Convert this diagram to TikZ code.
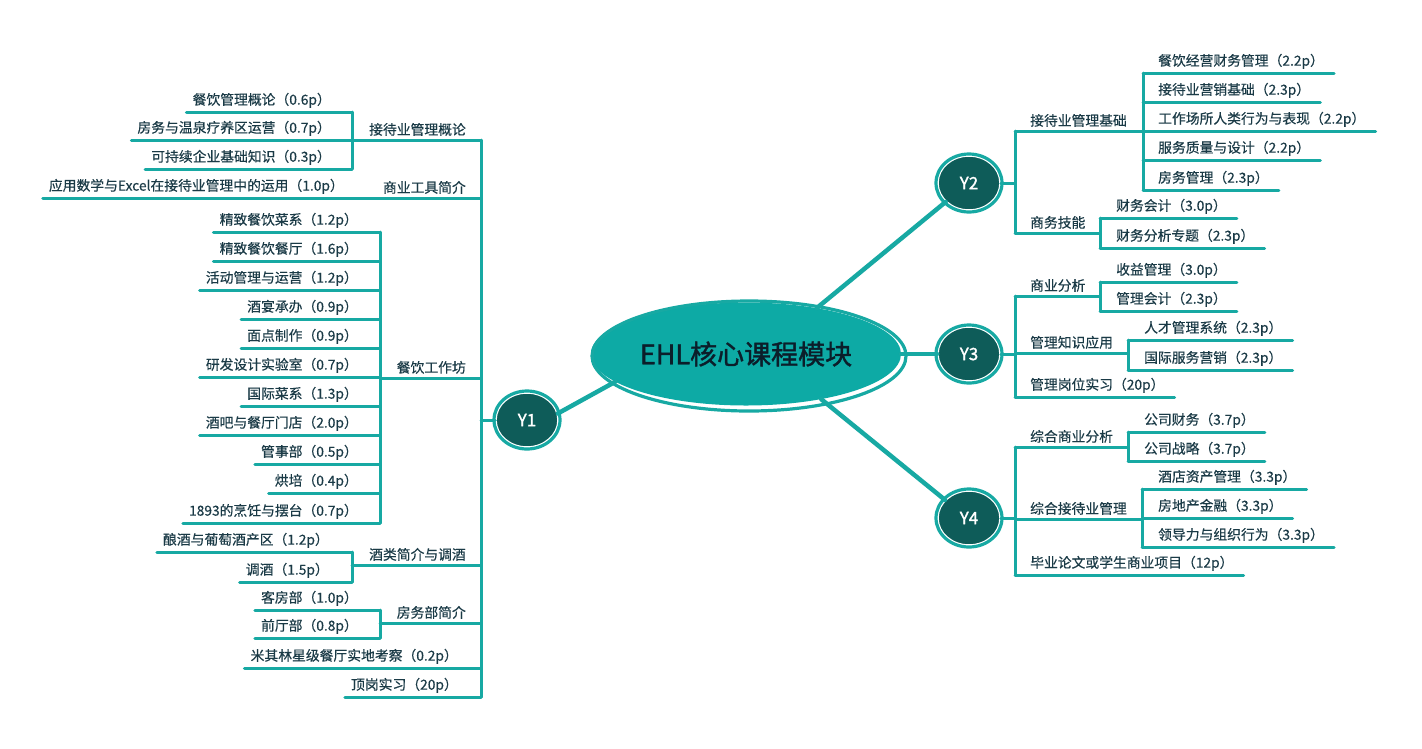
\documentclass[tikz,border=0pt]{standalone}
\usepackage{fontspec}
\newfontfamily\cjk{Noto Sans CJK SC}
\newfontfamily\cjkb[FakeBold=1.5]{Noto Sans CJK SC}
\newfontfamily\cjkm[FakeBold=0.4]{Noto Sans CJK SC}
\usetikzlibrary{shapes.geometric}
\definecolor{ln}{HTML}{17A9A3}
\definecolor{dk}{HTML}{0E5C59}
\definecolor{rootfill}{HTML}{0DAAA5}
\definecolor{txt}{HTML}{1A3A46}
\definecolor{ttl}{HTML}{0B1E2A}
\begin{document}
\begin{tikzpicture}[x=1pt,y=-1pt,
  ul/.style={draw=ln, line width=3pt, line cap=round},
  cn/.style={draw=ln, line width=4.5pt, line cap=round},
  lt/.style={font=\cjkm\fontsize{13.8}{16}\selectfont, text=txt, inner ysep=4pt, inner xsep=6pt},
  ll/.style={lt, anchor=south east},
  rl/.style={lt, anchor=south west, inner xsep=10pt},
  l1l/.style={lt, anchor=south east},
  l1r/.style={lt, anchor=south west},
  yr/.style={ellipse, fill=dk, draw=white, line width=1.5pt, minimum width=62pt, minimum height=54pt, inner sep=0pt, text=white, font=\cjkb\fontsize{17}{20}\selectfont},
  ring/.style={draw=ln, line width=3.2pt}
]
\useasboundingbox (0,0) rectangle (1422,748);

% ---------- root ----------
\node[ellipse, fill=rootfill, minimum width=310pt, minimum height=103pt, inner sep=0pt,
      text=ttl, font=\cjkb\fontsize{27}{30}\selectfont] (root) at (746,354) {EHL核心课程模块};
\draw[ring] ([xshift=3pt,yshift=-2pt]root.center) ellipse [x radius=157, y radius=55];

% ---------- year nodes ----------
\node[yr] (Y1) at (527,420) {Y1};
\node[yr] (Y2) at (969,183) {Y2};
\node[yr] (Y3) at (969,354) {Y3};
\node[yr] (Y4) at (969,518) {Y4};
\foreach \n in {Y1,Y2,Y3,Y4}{\draw[ring] (\n.center) ellipse [x radius=33, y radius=29];}

\draw[cn] (root.192) -- (Y1.12);
\draw[cn] (root.33) -- (Y2.219);
\draw[cn] (root.east) -- (Y3.west);
\draw[cn] (root.329) -- (Y4.143);

% ---------- Y1 (left) ----------
\coordinate (T1a) at (481,140);
\coordinate (T1b) at (481,697);
\draw[ul] (T1a) -- (T1b);
\draw[ul] (Y1.west) -- (Y1.west -| T1a);

% group A
\node[l1l] (A) at (472,140) {接待业管理概论};
\node[ll] (a1) at (337,112) {餐饮管理概论（0.6p）};
\node[ll] (a2) at (337,140) {房务与温泉疗养区运营（0.7p）};
\node[ll] (a3) at (337,169) {可持续企业基础知识（0.3p）};
\coordinate (bA1) at (352,112);
\coordinate (bA2) at (352,169);
\draw[ul] (bA1) -- (bA2);
\foreach \n in {a1,a2,a3}{\draw[ul] (\n.south west) -- (\n.south west -| bA1);}
\draw[ul] (bA1 |- A.south) -- (T1a |- A.south);

% group B
\node[l1l] (B) at (472,198) {商业工具简介};
\node[ll] (b1) at (350,198) {应用数学与Excel在接待业管理中的运用（1.0p）};
\draw[ul] (b1.south west) -- (T1a |- B.south);

% group C
\node[l1l] (C) at (472,378) {餐饮工作坊};
\node[ll] (c1) at (364,232) {精致餐饮菜系（1.2p）};
\node[ll] (c2) at (364,261) {精致餐饮餐厅（1.6p）};
\node[ll] (c3) at (364,290) {活动管理与运营（1.2p）};
\node[ll] (c4) at (364,319) {酒宴承办（0.9p）};
\node[ll] (c5) at (364,348) {面点制作（0.9p）};
\node[ll] (c6) at (364,377) {研发设计实验室（0.7p）};
\node[ll] (c7) at (364,406) {国际菜系（1.3p）};
\node[ll] (c8) at (364,435) {酒吧与餐厅门店（2.0p）};
\node[ll] (c9) at (364,464) {管事部（0.5p）};
\node[ll] (c10) at (364,493) {烘培（0.4p）};
\node[ll] (c11) at (364,523) {1893的烹饪与摆台（0.7p）};
\coordinate (bC1) at (380,232);
\coordinate (bC2) at (380,523);
\draw[ul] (bC1) -- (bC2);
\foreach \n in {c1,c2,c3,c4,c5,c6,c7,c8,c9,c10,c11}{\draw[ul] (\n.south west) -- (\n.south west -| bC1);}
\draw[ul] (bC1 |- C.south) -- (T1a |- C.south);

% group D
\node[l1l] (D) at (472,565) {酒类简介与调酒};
\node[ll] (d1) at (335,552) {酿酒与葡萄酒产区（1.2p）};
\node[ll] (d2) at (335,582) {调酒（1.5p）};
\coordinate (bD1) at (352,552);
\coordinate (bD2) at (352,582);
\draw[ul] (bD1) -- (bD2);
\foreach \n in {d1,d2}{\draw[ul] (\n.south west) -- (\n.south west -| bD1);}
\draw[ul] (bD1 |- D.south) -- (T1a |- D.south);

% group E
\node[l1l] (E) at (472,623) {房务部简介};
\node[ll] (e1) at (364,610) {客房部（1.0p）};
\node[ll] (e2) at (364,638) {前厅部（0.8p）};
\coordinate (bE1) at (380,610);
\coordinate (bE2) at (380,638);
\draw[ul] (bE1) -- (bE2);
\foreach \n in {e1,e2}{\draw[ul] (\n.south west) -- (\n.south west -| bE1);}
\draw[ul] (bE1 |- E.south) -- (T1a |- E.south);

% singles
\node[ll] (F) at (464,668) {米其林星级餐厅实地考察（0.2p）};
\node[ll] (G) at (464,697) {顶岗实习（20p）};
\draw[ul] (F.south west) -- (F.south west -| T1a);
\draw[ul] (G.south west) -- (G.south west -| T1a);

% ---------- Y2 ----------
\coordinate (T2a) at (1015,131);
\coordinate (T2b) at (1015,233);
\draw[ul] (T2a) -- (T2b);
\draw[ul] (Y2.east) -- (Y2.east -| T2a);

\node[l1r] (H) at (1024,131) {接待业管理基础};
\node[rl] (h1) at (1148,73) {餐饮经营财务管理（2.2p）};
\node[rl] (h2) at (1148,102) {接待业营销基础（2.3p）};
\node[rl] (h3) at (1148,131) {工作场所人类行为与表现（2.2p）};
\node[rl] (h4) at (1148,160) {服务质量与设计（2.2p）};
\node[rl] (h5) at (1148,190) {房务管理（2.3p）};
\coordinate (bH1) at (1143,73);
\coordinate (bH2) at (1143,190);
\draw[ul] (bH1) -- (bH2);
\foreach \n in {h1,h2,h3,h4,h5}{\draw[ul] (bH1 |- \n.south) -- (\n.south east);}
\draw[ul] (T2a |- H.south) -- (bH1 |- H.south);

\node[l1r] (I) at (1024,233) {商务技能};
\node[rl] (i1) at (1106,218) {财务会计（3.0p）};
\node[rl] (i2) at (1106,248) {财务分析专题（2.3p）};
\coordinate (bI1) at (1100,218);
\coordinate (bI2) at (1100,248);
\draw[ul] (bI1) -- (bI2);
\foreach \n in {i1,i2}{\draw[ul] (bI1 |- \n.south) -- (\n.south east);}
\draw[ul] (T2a |- I.south) -- (bI1 |- I.south);

% ---------- Y3 ----------
\coordinate (T3a) at (1015,296);
\coordinate (T3b) at (1015,397);
\draw[ul] (T3a) -- (T3b);
\draw[ul] (Y3.east) -- (Y3.east -| T3a);

\node[l1r] (J) at (1024,296) {商业分析};
\node[rl] (j1) at (1106,282) {收益管理（3.0p）};
\node[rl] (j2) at (1106,311) {管理会计（2.3p）};
\coordinate (bJ1) at (1100,282);
\coordinate (bJ2) at (1100,311);
\draw[ul] (bJ1) -- (bJ2);
\foreach \n in {j1,j2}{\draw[ul] (bJ1 |- \n.south) -- (\n.south east);}
\draw[ul] (T3a |- J.south) -- (bJ1 |- J.south);

\node[l1r] (K) at (1024,353) {管理知识应用};
\node[rl] (k1) at (1134,340) {人才管理系统（2.3p）};
\node[rl] (k2) at (1134,370) {国际服务营销（2.3p）};
\coordinate (bK1) at (1128,340);
\coordinate (bK2) at (1128,370);
\draw[ul] (bK1) -- (bK2);
\foreach \n in {k1,k2}{\draw[ul] (bK1 |- \n.south) -- (\n.south east);}
\draw[ul] (T3a |- K.south) -- (bK1 |- K.south);

\node[rl] (L) at (1020,397) {管理岗位实习（20p）};
\draw[ul] (T3a |- L.south) -- (L.south east);

% ---------- Y4 ----------
\coordinate (T4a) at (1015,447);
\coordinate (T4b) at (1015,575);
\draw[ul] (T4a) -- (T4b);
\draw[ul] (Y4.east) -- (Y4.east -| T4a);

\node[l1r] (M) at (1024,447) {综合商业分析};
\node[rl] (m1) at (1134,432) {公司财务（3.7p）};
\node[rl] (m2) at (1134,461) {公司战略（3.7p）};
\coordinate (bM1) at (1128,432);
\coordinate (bM2) at (1128,461);
\draw[ul] (bM1) -- (bM2);
\foreach \n in {m1,m2}{\draw[ul] (bM1 |- \n.south) -- (\n.south east);}
\draw[ul] (T4a |- M.south) -- (bM1 |- M.south);

\node[l1r] (N) at (1024,519) {综合接待业管理};
\node[rl] (n1) at (1148,489) {酒店资产管理（3.3p）};
\node[rl] (n2) at (1148,518) {房地产金融（3.3p）};
\node[rl] (n3) at (1148,547) {领导力与组织行为（3.3p）};
\coordinate (bN1) at (1142,489);
\coordinate (bN2) at (1142,547);
\draw[ul] (bN1) -- (bN2);
\foreach \n in {n1,n2,n3}{\draw[ul] (bN1 |- \n.south) -- (\n.south east);}
\draw[ul] (T4a |- N.south) -- (bN1 |- N.south);

\node[rl] (O) at (1020,575) {毕业论文或学生商业项目（12p）};
\draw[ul] (T4a |- O.south) -- (O.south east);
\end{tikzpicture}
\end{document}
